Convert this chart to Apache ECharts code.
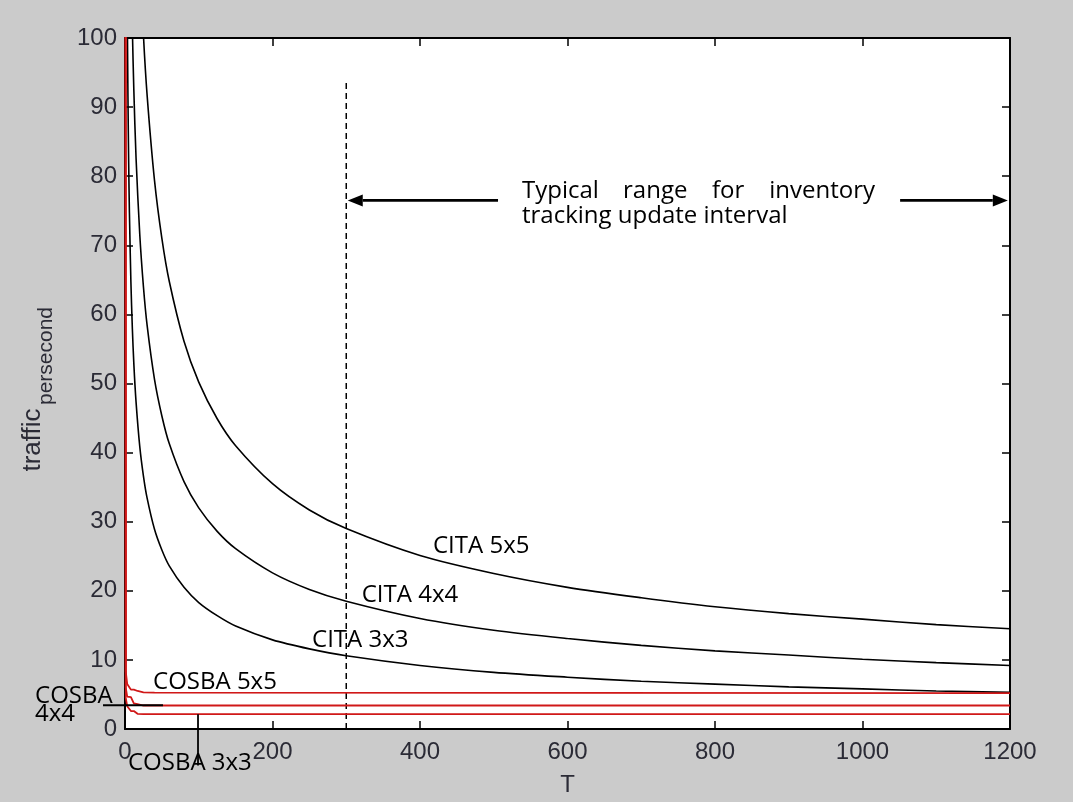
<!DOCTYPE html>
<html><head><meta charset="utf-8">
<script src="https://cdn.jsdelivr.net/npm/echarts@6/dist/echarts.min.js"></script>
<style>html,body{margin:0;padding:0;background:#cbcbcb}#c{width:1073px;height:802px}</style>
</head><body><div id="c"></div>
<script>
// ---- data ----
const xTicks = [0, 200, 400, 600, 800, 1000, 1200];
const yTicks = [0, 10, 20, 30, 40, 50, 60, 70, 80, 90, 100];

const citaT  = [3,4,5,6,8,10,12,15,20,25,30,40,50,60,80,100,125,150,200,250,300,400,500,600,700,800,900,1000,1100,1200];
const cita5x5 = [null,null,null,null,null,null,null,null,112.3,100.4,91.7,79.4,71.0,64.8,56.1,50.2,44.9,41.0,35.5,31.7,29.0,25.1,22.5,20.5,19.0,17.7,16.7,15.9,15.1,14.5];
const cita4x4 = [null,null,null,null,113,101.2,92.4,82.6,71.6,64.0,58.4,50.6,45.3,41.3,35.8,32.0,28.6,26.1,22.6,20.2,18.5,16.0,14.3,13.1,12.1,11.3,10.7,10.1,9.6,9.2];
const cita3x3 = [105.7,91.5,81.8,74.7,64.7,57.9,52.8,47.3,40.9,36.6,33.4,28.9,25.9,23.6,20.5,18.3,16.4,14.9,12.9,11.6,10.6,9.2,8.2,7.5,6.9,6.5,6.1,5.8,5.5,5.3];

const cosbaT   = [0.3, 1, 3, 5, 8, 12, 17, 25, 40, 1200];
const cosba5x5 = [500, 8.3, 6.5, 6.2, 5.7, 5.7, 5.5, 5.3, 5.25, 5.2];
const cosba4x4 = [500, 6.0, 4.7, 4.6, 4.6, 3.7, 3.6, 3.4, 3.4, 3.4];
const cosba3x3 = [500, 4.5, 3.3, 3.2, 2.6, 2.6, 2.2, 2.15, 2.15, 2.15];

const rangeT = 300;      // start of the typical update-interval range
const rangeTop = 93.5;   // top of the dashed marker line
// ---------------------------------------

const pairs = (xs, ys) => xs.map((x, i) => [x, ys[i]]);
const chart = echarts.init(document.getElementById('c'), null, {renderer: 'canvas'});

const tickFont = {fontFamily: 'Liberation Sans, Arial, sans-serif', fontSize: 24, color: '#2b2b36'};
const axisCommon = {
  type: 'value', min: 0, splitLine: {show: false},
  axisLine: {show: true, onZero: false, lineStyle: {color: '#000', width: 2}},
  axisTick: {show: true, inside: true, length: 8, lineStyle: {color: '#000', width: 1.5}}
};

const blackLine = {color: '#000', width: 1.6};
const redLine = {color: '#d01818', width: 1.8};

chart.setOption({
  animation: false,
  backgroundColor: '#cbcbcb',
  grid: {left: 125, right: 63, top: 38, bottom: 67, show: true, backgroundColor: '#ffffff', borderWidth: 0},
  xAxis: [
    Object.assign({}, axisCommon, {position: 'bottom', max: 1200, interval: 200,
      axisLabel: Object.assign({margin: 11, formatter: v => String(v)}, tickFont),
      name: 'T', nameLocation: 'middle', nameGap: 44,
      nameTextStyle: {fontFamily: 'Liberation Sans, Arial, sans-serif', fontSize: 24, color: '#2b2b36'}}),
    Object.assign({}, axisCommon, {position: 'top', max: 1200, interval: 200, axisLabel: {show: false}})
  ],
  yAxis: [
    Object.assign({}, axisCommon, {position: 'left', max: 100, interval: 10,
      axisLabel: Object.assign({margin: 8, formatter: v => String(v)}, tickFont)}),
    Object.assign({}, axisCommon, {position: 'right', max: 100, interval: 10, axisLabel: {show: false}})
  ],
  series: [
    {name: 'CITA 5x5', type: 'line', data: pairs(citaT, cita5x5), symbol: 'none', smooth: 0.3, lineStyle: blackLine, clip: true, z: 3},
    {name: 'CITA 4x4', type: 'line', data: pairs(citaT, cita4x4), symbol: 'none', smooth: 0.3, lineStyle: blackLine, clip: true, z: 3},
    {name: 'CITA 3x3', type: 'line', data: pairs(citaT, cita3x3), symbol: 'none', smooth: 0.3, lineStyle: blackLine, clip: true, z: 3},
    {name: 'COSBA 5x5', type: 'line', data: pairs(cosbaT, cosba5x5), symbol: 'none', lineStyle: redLine, clip: true, z: 4},
    {name: 'COSBA 4x4', type: 'line', data: pairs(cosbaT, cosba4x4), symbol: 'none', lineStyle: redLine, clip: true, z: 4},
    {name: 'COSBA 3x3', type: 'line', data: pairs(cosbaT, cosba3x3), symbol: 'none', lineStyle: redLine, clip: true, z: 4},
    {name: 'range', type: 'line', data: [[rangeT, 0], [rangeT, rangeTop]], symbol: 'none',
      lineStyle: {color: '#000', width: 1.5, type: [6, 4]}, z: 2}
  ]
});

// ---- annotations placed in data coordinates ----
const px = (t, v) => chart.convertToPixel({gridIndex: 0}, [t, v]);
const annFont = {fontFamily: 'Open Sans, Lato, sans-serif', fontSize: 24, fill: '#000'};
const txt = (s, t, v, align) => {
  const p = px(t, v);
  return {type: 'text', x: p[0], y: p[1], z: 50,
    style: Object.assign({text: s, align: align || 'left', verticalAlign: 'middle'}, annFont)};
};
const seg = (a, b, w) => {
  const p = px(a[0], a[1]), q = px(b[0], b[1]);
  return {type: 'line', z: 40, shape: {x1: p[0], y1: p[1], x2: q[0], y2: q[1]}, style: {stroke: '#000', lineWidth: w || 1.8}};
};
const arrow = (from, tip) => {
  const p = px(from[0], from[1]), q = px(tip[0], tip[1]);
  const dir = Math.sign(q[0] - p[0]);
  const L = 15, H = 6;
  return [
    {type: 'line', z: 40, shape: {x1: p[0], y1: p[1], x2: q[0] - dir * L, y2: q[1]}, style: {stroke: '#000', lineWidth: 2.6}},
    {type: 'polygon', z: 41, shape: {points: [[q[0], q[1]], [q[0] - dir * L, q[1] - H], [q[0] - dir * L, q[1] + H]]}, style: {fill: '#000'}}
  ];
};

const graphics = [
  txt('CITA 5x5', 417.6, 26.5),
  txt('CITA 4x4', 321, 19.4),
  txt('CITA 3x3', 253.6, 12.8),
  txt('COSBA 5x5', 38, 6.74),
  txt('COSBA', -122, 4.73),
  txt('4x4', -122, 2.15),
  txt('COSBA 3x3', 4, -5.0),
  seg([-29.8, 3.44], [51.5, 3.44], 1.8),
  seg([99, 2.15], [99, -5.3], 1.8),
  txt('Typical', 538.3, 77.9),
  txt('range', 675.3, 77.9),
  txt('for', 795.9, 77.9),
  txt('inventory', 1017, 77.9, 'right'),
  txt('tracking update interval', 538.3, 74.2),
  ...arrow([505.8, 76.5], [302, 76.5]),
  ...arrow([1051, 76.5], [1197, 76.5]),
  // y-axis title with subscript
  {type: 'text', x: 33, y: 440, rotation: Math.PI / 2, z: 50,
    style: {text: 'traffic', fontFamily: 'Liberation Sans, Arial, sans-serif', fontSize: 26, fill: '#2b2b36', align: 'center', verticalAlign: 'middle'}},
  {type: 'text', x: 46, y: 356, rotation: Math.PI / 2, z: 50,
    style: {text: 'persecond', fontFamily: 'Liberation Sans, Arial, sans-serif', fontSize: 21, fill: '#2b2b36', align: 'center', verticalAlign: 'middle'}}
];
chart.setOption({graphic: graphics});
</script></body></html>
